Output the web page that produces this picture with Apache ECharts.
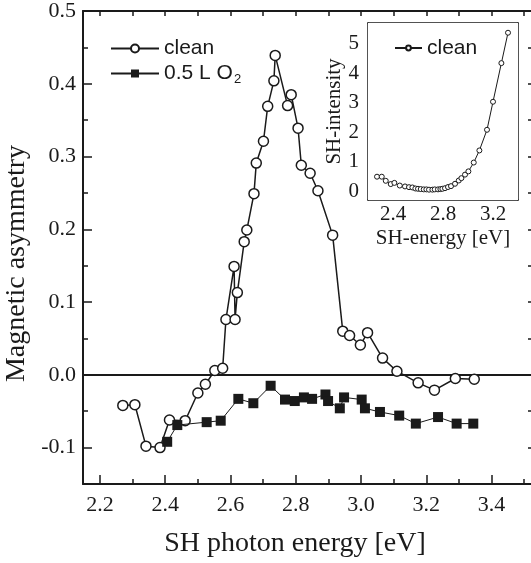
<!DOCTYPE html>
<html>
<head>
<meta charset="utf-8">
<script src="https://cdn.jsdelivr.net/npm/echarts@6/dist/echarts.min.js"></script>
<style>
  html, body { margin: 0; padding: 0; background: #fff; }
  #main { width: 531px; height: 563px; }
</style>
</head>
<body>
<div id="main"></div>
<script>
// main plot: magnetic asymmetry vs photon energy
const cleanX = [2.270, 2.307, 2.341, 2.384, 2.413, 2.461, 2.500, 2.523, 2.552, 2.576,
  2.586, 2.611, 2.614, 2.621, 2.642, 2.650, 2.672, 2.679, 2.701, 2.714,
  2.733, 2.737, 2.775, 2.786, 2.807, 2.817, 2.844, 2.868, 2.913, 2.944,
  2.965, 2.998, 3.020, 3.066, 3.110, 3.175, 3.225, 3.289, 3.347];
const cleanY = [-0.042, -0.041, -0.098, -0.100, -0.062, -0.063, -0.025, -0.013, 0.006, 0.009,
  0.076, 0.149, 0.076, 0.113, 0.183, 0.199, 0.249, 0.291, 0.321, 0.369,
  0.404, 0.439, 0.370, 0.385, 0.339, 0.288, 0.277, 0.253, 0.192, 0.060,
  0.054, 0.041, 0.058, 0.023, 0.005, -0.011, -0.021, -0.005, -0.006];

const oxX = [2.406, 2.437, 2.527, 2.570, 2.624, 2.670, 2.723, 2.767, 2.797, 2.825,
  2.850, 2.891, 2.899, 2.935, 2.948, 3.002, 3.012, 3.058, 3.117, 3.168,
  3.236, 3.293, 3.344];
const oxY = [-0.092, -0.069, -0.065, -0.063, -0.033, -0.039, -0.015, -0.034, -0.036, -0.031,
  -0.033, -0.027, -0.036, -0.046, -0.031, -0.034, -0.046, -0.051, -0.056, -0.067,
  -0.058, -0.067, -0.067];

// inset: SH intensity (clean)
const insetX = [2.272, 2.310, 2.342, 2.382, 2.411, 2.454, 2.496, 2.528, 2.555, 2.579,
  2.600, 2.622, 2.646, 2.667, 2.688, 2.715, 2.734, 2.760, 2.779, 2.795,
  2.816, 2.840, 2.864, 2.896, 2.926, 2.947, 2.976, 3.003, 3.046, 3.091,
  3.152, 3.200, 3.267, 3.320];
const insetY = [0.49, 0.49, 0.35, 0.24, 0.28, 0.19, 0.16, 0.135, 0.125, 0.09,
  0.08, 0.07, 0.06, 0.06, 0.05, 0.05, 0.06, 0.06, 0.07, 0.08,
  0.10, 0.14, 0.17, 0.25, 0.36, 0.44, 0.56, 0.67, 0.97, 1.38,
  2.08, 3.03, 4.34, 5.37];

// tick values
const xMajor = [2.2, 2.4, 2.6, 2.8, 3.0, 3.2, 3.4];
const xMinor = [2.3, 2.5, 2.7, 2.9, 3.1, 3.3, 3.5];
const yMajor = [-0.1, 0.0, 0.1, 0.2, 0.3, 0.4, 0.5];
const yMinor = [-0.15, -0.05, 0.05, 0.15, 0.25, 0.35, 0.45];
const insetXTicks = [2.4, 2.8, 3.2];
const insetYTicks = [0, 1, 2, 3, 4, 5];

const ink = '#1a1a1a';
const serif = '"Liberation Serif", "DejaVu Serif", serif';
const sans = '"Liberation Sans", Arial, sans-serif';

const zip = (xs, ys) => xs.map((x, i) => [x, ys[i]]);

function line(show, width) {
  return { show: show, onZero: false, lineStyle: { color: ink, width: width } };
}
function ticks(values, len, width) {
  return { inside: true, length: len, customValues: values, lineStyle: { color: ink, width: width } };
}
// axis that only draws ticks (and maybe the frame line)
function tickAxis(extra) {
  return Object.assign({
    type: 'value',
    axisLabel: { show: false },
    splitLine: { show: false }
  }, extra);
}

const X_MIN = 2.148, X_MAX = 3.527;
const Y_MIN = -0.15, Y_MAX = 0.5;
const IX_MIN = 2.2, IX_MAX = 3.4;
const IY_MIN = -0.3, IY_MAX = 5.7;

const chart = echarts.init(document.getElementById('main'));
chart.setOption({
  backgroundColor: '#fff',
  animation: false,
  grid: [
    { left: 83, top: 11, right: -2, bottom: 79, outerBoundsMode: 'none', containLabel: false },
    { left: 368, top: 23, width: 150, height: 177, outerBoundsMode: 'none', containLabel: false,
      show: true, backgroundColor: '#fff', borderWidth: 0, z: 3 }
  ],
  legend: [
    {
      left: 105, top: 33, orient: 'vertical',
      itemWidth: 48, itemHeight: 10, itemGap: 4,
      data: ['clean', '0.5 L O2'],
      formatter: function (name) {
        return name === '0.5 L O2' ? '{t|0.5 L O}{s|2}' : '{t|clean}';
      },
      textStyle: {
        color: ink,
        rich: {
          t: { fontFamily: sans, fontSize: 21, color: ink, lineHeight: 24 },
          s: { fontFamily: sans, fontSize: 13, color: ink, verticalAlign: 'bottom', padding: [10, 0, 0, 1] }
        }
      }
    },
    {
      left: 389, top: 31, orient: 'vertical', z: 5,
      itemWidth: 27, itemHeight: 6,
      data: ['insetClean'],
      formatter: function () { return 'clean'; },
      textStyle: { fontFamily: sans, fontSize: 21, color: ink, lineHeight: 24 }
    }
  ],
  xAxis: [
    // main bottom: major ticks + labels
    {
      type: 'value', gridIndex: 0, position: 'bottom', min: X_MIN, max: X_MAX,
      axisLine: line(true, 2),
      axisTick: ticks(xMajor, 9, 1.5),
      axisLabel: {
        customValues: xMajor, margin: 10, color: ink, fontFamily: serif, fontSize: 22,
        formatter: v => v.toFixed(1)
      },
      splitLine: { show: false },
      name: 'SH photon energy [eV]', nameLocation: 'middle', nameGap: 46,
      nameTextStyle: { fontFamily: serif, fontSize: 28, color: ink, padding: [0, 26, 0, 0] }
    },
    tickAxis({ gridIndex: 0, position: 'bottom', min: X_MIN, max: X_MAX,
      axisLine: line(false, 2), axisTick: ticks(xMinor, 5, 1.5) }),
    tickAxis({ gridIndex: 0, position: 'top', min: X_MIN, max: X_MAX,
      axisLine: line(true, 2), axisTick: ticks(xMajor.concat(xMinor), 5, 1.5) }),
    // inset
    {
      type: 'value', gridIndex: 1, position: 'bottom', min: IX_MIN, max: IX_MAX,
      axisLine: line(true, 1.5),
      axisTick: ticks(insetXTicks, 4, 1.2),
      axisLabel: {
        customValues: insetXTicks, margin: 4, color: ink, fontFamily: serif, fontSize: 21,
        formatter: v => v.toFixed(1)
      },
      splitLine: { show: false },
      name: 'SH-energy [eV]', nameLocation: 'middle', nameGap: 28,
      nameTextStyle: { fontFamily: serif, fontSize: 21, color: ink }
    },
    tickAxis({ gridIndex: 1, position: 'top', min: IX_MIN, max: IX_MAX,
      axisLine: line(true, 1.5), axisTick: ticks(insetXTicks, 4, 1.2) })
  ],
  yAxis: [
    {
      type: 'value', gridIndex: 0, position: 'left', min: Y_MIN, max: Y_MAX,
      axisLine: line(true, 2),
      axisTick: ticks(yMajor, 9, 1.5),
      axisLabel: {
        customValues: yMajor, margin: 7, color: ink, fontFamily: serif, fontSize: 22,
        formatter: v => v.toFixed(1)
      },
      splitLine: { show: false },
      name: 'Magnetic asymmetry', nameLocation: 'middle', nameGap: 50,
      nameTextStyle: { fontFamily: serif, fontSize: 28, color: ink, padding: [0, 32, 0, 0] }
    },
    tickAxis({ gridIndex: 0, position: 'left', min: Y_MIN, max: Y_MAX,
      axisLine: line(false, 2), axisTick: ticks(yMinor, 5, 1.5) }),
    tickAxis({ gridIndex: 0, position: 'right', min: Y_MIN, max: Y_MAX,
      axisLine: line(true, 2), axisTick: ticks(yMajor.concat(yMinor), 5, 1.5) }),
    // inset
    {
      type: 'value', gridIndex: 1, position: 'left', min: IY_MIN, max: IY_MAX,
      axisLine: line(true, 1.5),
      axisTick: ticks(insetYTicks, 4, 1.2),
      axisLabel: { customValues: insetYTicks, margin: 9, color: ink, fontFamily: serif, fontSize: 21 },
      splitLine: { show: false },
      name: 'SH-intensity', nameLocation: 'middle', nameGap: 20,
      nameTextStyle: { fontFamily: serif, fontSize: 21, color: ink }
    },
    tickAxis({ gridIndex: 1, position: 'right', min: IY_MIN, max: IY_MAX,
      axisLine: line(true, 1.5), axisTick: ticks(insetYTicks, 4, 1.2) })
  ],
  series: [
    {
      name: 'clean', type: 'line', xAxisIndex: 0, yAxisIndex: 0,
      data: zip(cleanX, cleanY),
      symbol: 'circle', symbolSize: 10, showAllSymbol: true,
      lineStyle: { color: ink, width: 1.5 },
      itemStyle: { color: '#fff', borderColor: ink, borderWidth: 1.5 },
      z: 3,
      markLine: {
        silent: true, symbol: 'none', z: 1,
        label: { show: false },
        lineStyle: { color: ink, width: 2, type: 'solid' },
        data: [{ yAxis: 0 }]
      }
    },
    {
      name: '0.5 L O2', type: 'line', xAxisIndex: 0, yAxisIndex: 0,
      data: zip(oxX, oxY),
      symbol: 'rect', symbolSize: 10, showAllSymbol: true,
      lineStyle: { color: ink, width: 1 },
      itemStyle: { color: ink, borderColor: ink, borderWidth: 0 },
      z: 4
    },
    {
      name: 'insetClean', type: 'line', xAxisIndex: 3, yAxisIndex: 3,
      data: zip(insetX, insetY),
      symbol: 'circle', symbolSize: 5, showAllSymbol: true,
      lineStyle: { color: ink, width: 1 },
      itemStyle: { color: '#fff', borderColor: ink, borderWidth: 1 },
      z: 4
    }
  ]
});
</script>
</body>
</html>
